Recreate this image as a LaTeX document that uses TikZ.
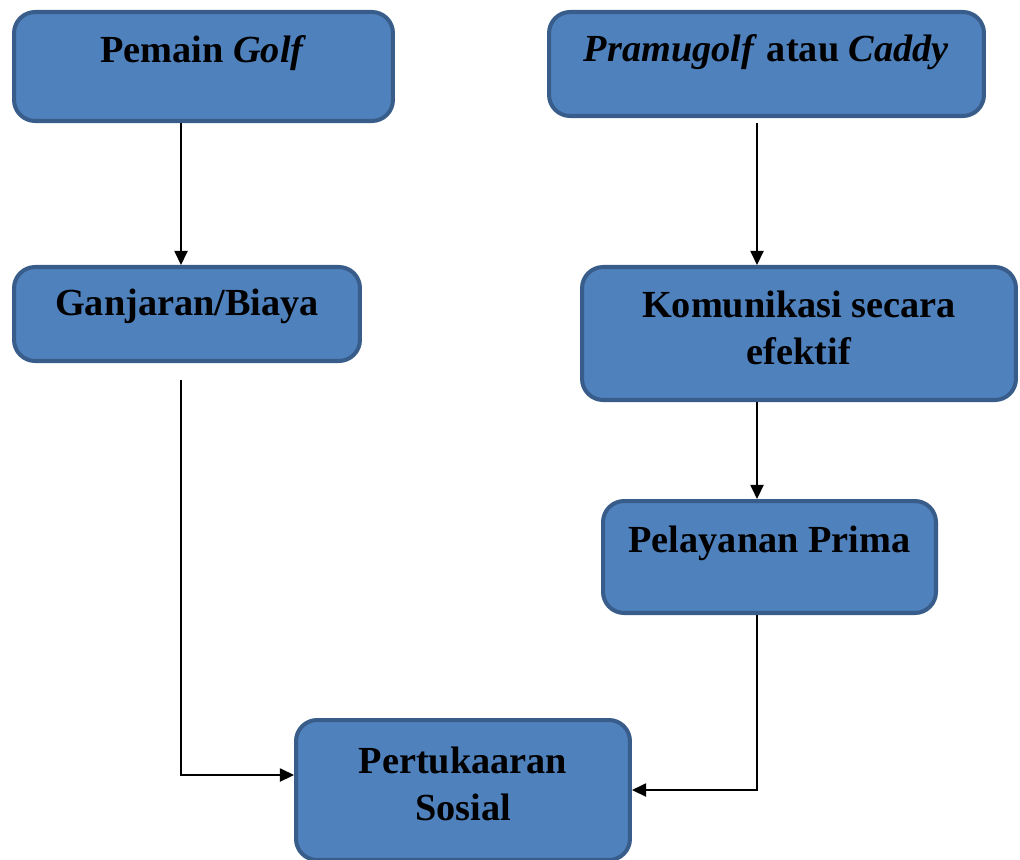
\documentclass[tikz,border=0pt]{standalone}
\usepackage{fontspec}
\setmainfont{Liberation Serif}
\usetikzlibrary{arrows.meta,positioning}
\definecolor{isi}{HTML}{4F81BD}
\definecolor{tepi}{HTML}{385D8A}

\begin{document}
\begin{tikzpicture}[x=0.02cm,y=-0.02cm,
    blok/.style={draw=tepi,fill=isi,line width=2.3pt,rounded corners=12pt,
                 align=center,inner sep=0pt,
                 font=\fontsize{21.8}{26.6}\selectfont\bfseries},
    flow/.style={-{Triangle[length=8pt,width=7.5pt]},line width=0.8pt,black}]
  \useasboundingbox (0,0) rectangle (1020,859);

  \node[blok,minimum width=7.58cm,minimum height=2.18cm,text height=15pt,text depth=19pt]
       (pemain) at (203.5,66.5) {Pemain \textit{Golf}};
  \node[blok,minimum width=8.70cm,minimum height=2.08cm,text height=15pt,text depth=17.3pt]
       (pramu) at (766.5,64) {\textit{Pramugolf} atau \textit{Caddy}};
  \node[blok,minimum width=6.92cm,minimum height=1.88cm,text height=15pt,text depth=13.3pt]
       (ganjaran) at (187,314) {Ganjaran/Biaya};
  \node[blok,minimum width=8.68cm,minimum height=2.66cm,text depth=7pt]
       (komunikasi) at (799,333.5) {Komunikasi secara\\efektif};
  \node[blok,minimum width=6.66cm,minimum height=2.24cm,text height=15pt,text depth=20.1pt]
       (pelayanan) at (769.5,557) {Pelayanan Prima};
  \node[blok,minimum width=6.68cm,minimum height=2.80cm,text depth=7pt]
       (sosial) at (463,790) {Pertukaaran\\Sosial};

  \draw[flow] ([xshift=-0.45cm]pemain.south) -- ([xshift=-0.45cm]pemain.south |- ganjaran.north);
  \draw[flow,shorten <=0.1cm] ([xshift=-0.19cm]pramu.south) -- ([xshift=-0.19cm]pramu.south |- komunikasi.north);
  \draw[flow,shorten <=0.33cm] ([xshift=-0.12cm]ganjaran.south) |- ([yshift=0.3cm]sosial.west);
  \draw[flow] ([xshift=-0.84cm]komunikasi.south) -- ([xshift=-0.84cm]komunikasi.south |- pelayanan.north);
  \draw[flow] ([xshift=-0.25cm]pelayanan.south) |- (sosial.east);
\end{tikzpicture}
\end{document}
